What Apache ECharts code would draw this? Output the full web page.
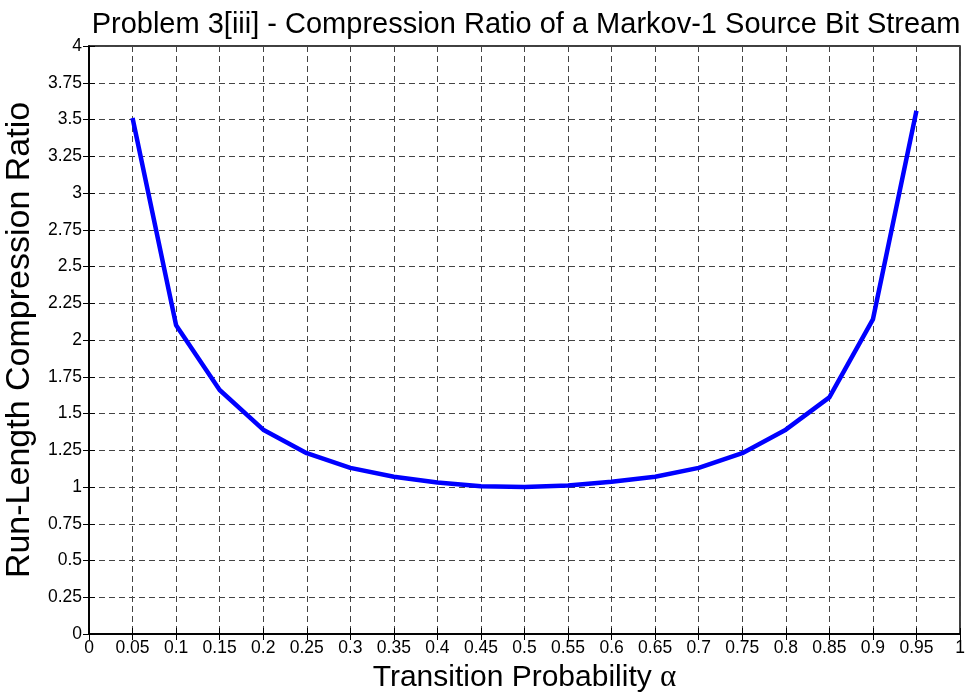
<!DOCTYPE html>
<html>
<head>
<meta charset="utf-8">
<script src="https://cdn.jsdelivr.net/npm/echarts@6/dist/echarts.min.js"></script>
<style>
html, body { margin: 0; padding: 0; background: #fff; }
#chart { width: 967px; height: 694px; }
</style>
</head>
<body>
<div id="chart"></div>
<script>
// transition probability alpha
var alphas = [0.05, 0.1, 0.15, 0.2, 0.25, 0.3, 0.35, 0.4, 0.45, 0.5, 0.55, 0.6, 0.65, 0.7, 0.75, 0.8, 0.85, 0.9, 0.95];
// run-length compression ratio
var ratios = [3.51, 2.10, 1.66, 1.39, 1.23, 1.13, 1.07, 1.03, 1.005, 1.0, 1.01, 1.035, 1.07, 1.13, 1.23, 1.39, 1.61, 2.14, 3.56];

var seriesData = [];
for (var i = 0; i < alphas.length; i++) {
	seriesData.push([alphas[i], ratios[i]]);
}

var font = 'Liberation Sans, Arial, sans-serif';
var gridLine = { show: true, lineStyle: { color: '#444', type: [6, 4], width: 1 } };

var chart = echarts.init(document.getElementById('chart'));
chart.setOption({
	backgroundColor: '#fff',
	animation: false,
	title: {
		text: 'Problem 3[iii] - Compression Ratio of a Markov-1 Source Bit Stream',
		left: 521, top: 5, textAlign: 'center',
		textStyle: { fontFamily: font, fontSize: 29, fontWeight: 'normal', color: '#000' }
	},
	grid: {
		left: 89, top: 46, right: 7, bottom: 60,
		outerBoundsMode: 'none', containLabel: false,
		show: true, borderColor: '#000', borderWidth: 1.5, backgroundColor: '#fff'
	},
	xAxis: [
		{
			type: 'value', min: 0, max: 1, interval: 0.05,
			name: 'Transition Probability {a|α}',
			nameLocation: 'middle', nameGap: 28,
			nameTextStyle: {
				fontFamily: font, fontSize: 30, color: '#000',
				rich: { a: { fontFamily: 'Liberation Serif, Times New Roman, serif', fontSize: 31, color: '#000' } }
			},
			axisLine: { lineStyle: { color: '#000', width: 1.5 } },
			axisTick: { inside: true, length: 6, lineStyle: { color: '#000' } },
			axisLabel: { fontFamily: font, fontSize: 17.5, color: '#000', margin: 5 },
			splitLine: gridLine
		},
		{
			type: 'value', min: 0, max: 1, interval: 0.05, position: 'top',
			axisLine: { show: true, lineStyle: { color: '#000', width: 1.5 } },
			axisTick: { inside: true, length: 6, lineStyle: { color: '#000' } },
			axisLabel: { show: false },
			splitLine: { show: false }
		}
	],
	yAxis: [
		{
			type: 'value', min: 0, max: 4, interval: 0.25,
			name: 'Run-Length Compression Ratio',
			nameLocation: 'middle', nameGap: 41,
			nameTextStyle: { fontFamily: font, fontSize: 34, color: '#000' },
			axisLine: { show: true, lineStyle: { color: '#000', width: 1.5 } },
			axisTick: { show: true, inside: true, length: 6, lineStyle: { color: '#000' } },
			axisLabel: { fontFamily: font, fontSize: 17.5, color: '#000', margin: 7 },
			splitLine: gridLine
		},
		{
			type: 'value', min: 0, max: 4, interval: 0.25, position: 'right',
			axisLine: { show: true, lineStyle: { color: '#000', width: 1.5 } },
			axisTick: { show: true, inside: true, length: 6, lineStyle: { color: '#000' } },
			axisLabel: { show: false },
			splitLine: { show: false }
		}
	],
	series: [
		{
			type: 'line',
			data: seriesData,
			symbol: 'none',
			lineStyle: { color: '#0000ff', width: 4.5 }
		}
	]
});
</script>
</body>
</html>
